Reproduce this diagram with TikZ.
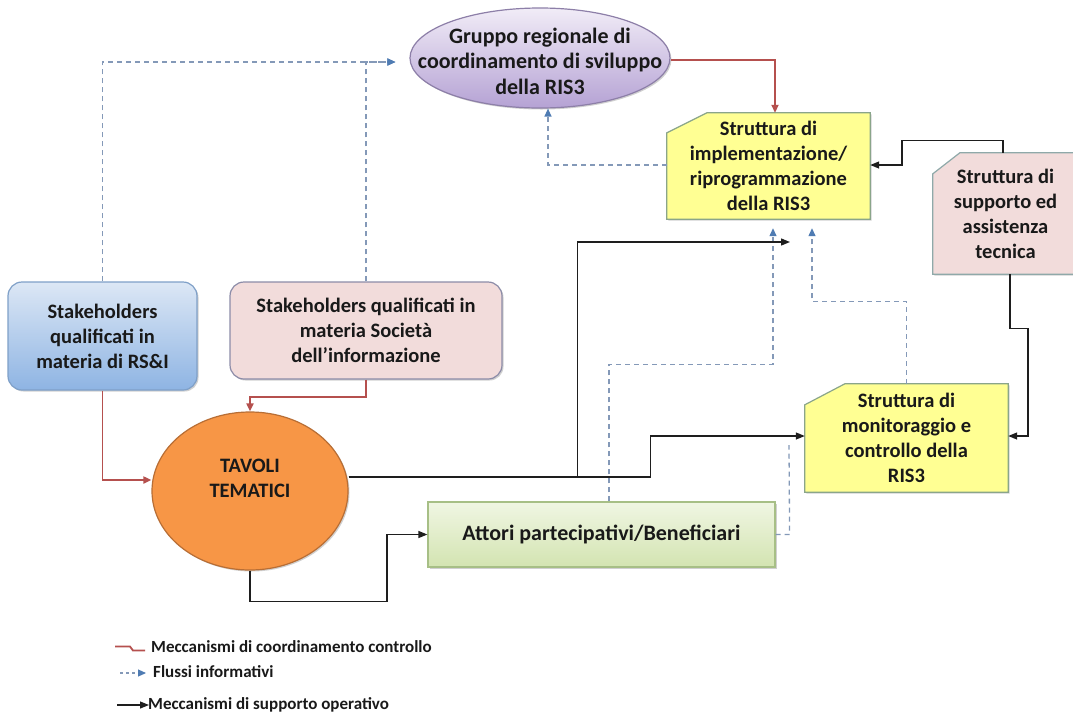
\documentclass[tikz,border=0pt]{standalone}
\usepackage{fontspec}
\setmainfont{Carlito}
\usetikzlibrary{arrows.meta,shadows,calc,shapes.geometric}
\definecolor{redline}{HTML}{B5504E}
\definecolor{blueline}{HTML}{8499B8}
\definecolor{bluetip}{HTML}{4F7CB3}
\definecolor{blackline}{HTML}{1E1E1E}
\definecolor{yelfill}{HTML}{FFFF93}
\definecolor{yeldraw}{HTML}{8AA58A}
\definecolor{pinkfill}{HTML}{F2DCDB}
\definecolor{suppdraw}{HTML}{8FA9A9}
\definecolor{socdraw}{HTML}{8C8CA8}
\definecolor{rsitop}{HTML}{DCE7F5}
\definecolor{rsibot}{HTML}{8EB4E3}
\definecolor{rsidraw}{HTML}{7FA0C8}
\definecolor{grtop}{HTML}{F1ECF7}
\definecolor{grbot}{HTML}{B5A2D4}
\definecolor{grdraw}{HTML}{8D7FA8}
\definecolor{tavfill}{HTML}{F79646}
\definecolor{tavdraw}{HTML}{B86E35}
\definecolor{atttop}{HTML}{F0F6E3}
\definecolor{attbot}{HTML}{D3E4B1}
\definecolor{attdraw}{HTML}{A7BF86}
\pgfdeclarelayer{background}
\pgfsetlayers{background,main}
\tikzset{
  txt/.style={font=\bfseries\fontsize{20.5}{25}\selectfont, align=center, text=black!90, inner sep=0pt},
  bigtxt/.style={font=\bfseries\fontsize{22}{25.5}\selectfont},
  shad/.style={drop shadow={shadow xshift=1.5pt,shadow yshift=-1.5pt,opacity=0.3,fill=black!60}},
  coord/.style={draw=redline, line width=1.8pt, -{Triangle[length=8pt,width=7pt]}},
  info/.style={draw=blueline, line width=1.3pt, dash pattern=on 5pt off 4pt, -{Triangle[length=8pt,width=7pt,color=bluetip]}},
  infonotip/.style={draw=blueline, line width=1.3pt, dash pattern=on 5pt off 4pt},
  oper/.style={draw=blackline, line width=1.3pt, -{Triangle[length=9pt,width=7pt]}},
  yelbox/.style={fill=yelfill, draw=yeldraw, line width=1.2pt, shad},
  suppbox/.style={fill=pinkfill, draw=suppdraw, line width=1.2pt, shad},
  legtxt/.style={font=\bfseries\fontsize{17}{20}\selectfont, anchor=west, inner sep=0pt, text=black!90}
}
\begin{document}
\begin{tikzpicture}[x=1pt,y=-1pt]
\useasboundingbox (0,0) rectangle (1073,713);

% nodes
\node[ellipse, inner sep=0pt, minimum width=260pt, minimum height=100pt, top color=grtop, bottom color=grbot, draw=grdraw, line width=1.2pt, shad] (gruppo) at (540,58) {};
\node[txt, bigtxt] (gruppotxt) at (540,61)
  {Gruppo regionale di\\coordinamento di sviluppo\\della RIS3};
\node[txt, minimum width=203pt, minimum height=106pt] (impl) at (768.5,166)
  {Struttura di\\implementazione/\\riprogrammazione\\della RIS3};
\node[txt, minimum width=145pt, minimum height=121pt] (supp) at (1005.5,213.5)
  {Struttura di\\supporto ed\\assistenza\\tecnica};
\node[txt, minimum width=203pt, minimum height=108pt] (monitor) at (906.5,438)
  {Struttura di\\monitoraggio e\\controllo della\\RIS3};
\node[txt, rectangle, rounded corners=14pt, minimum width=189pt, minimum height=108pt, top color=rsitop, bottom color=rsibot, draw=rsidraw, line width=1.2pt, shad] (rsi) at (102.5,336)
  {Stakeholders\\qualificati in\\materia di RS\&I};
\node[txt, rectangle, rounded corners=14pt, minimum width=272pt, minimum height=97pt, fill=pinkfill, draw=socdraw, line width=1.2pt, shad] (soc) at (366,330.5)
  {Stakeholders qualificati in\\materia Società\\dell’informazione};
\node[txt, ellipse, minimum width=196pt, minimum height=158pt, fill=tavfill, draw=tavdraw, line width=1.2pt, shad] (tavoli) at (250,491)
  {TAVOLI\\TEMATICI\\\mbox{}};
\node[txt, bigtxt, rectangle, minimum width=347pt, minimum height=65pt, top color=atttop, bottom color=attbot, draw=attdraw, line width=1.2pt, shad] (attori) at (601.5,534.5)
  {Attori partecipativi/Beneficiari};

\begin{pgfonlayer}{background}
\fill[white] (0,0) rectangle (1073,713);
\path[yelbox] (impl.south west) -- (impl.south east) -- (impl.north east) -- ([xshift=40pt]impl.north west) -- ([yshift=-20pt]impl.north west) -- cycle;
\path[yelbox] (monitor.south west) -- (monitor.south east) -- (monitor.north east) -- ([xshift=40pt]monitor.north west) -- ([yshift=-21pt]monitor.north west) -- cycle;
\path[suppbox] (supp.south west) -- (supp.south east) -- (supp.north east) -- ([xshift=27pt]supp.north west) -- ([yshift=-21pt]supp.north west) -- cycle;
\end{pgfonlayer}

% coordination (red)
\draw[coord] ([yshift=-2pt]gruppo.east) -| ([xshift=6.5pt]impl.north);
\draw[coord] (rsi.south) |- ([yshift=11pt]tavoli.west);
\draw[coord] (soc.south) -- ++(0,17) -| (tavoli.north);

% information flows (blue dashed)
\draw[info] (rsi.north) |- ([xshift=-14pt,yshift=-4pt]gruppo.west);
\draw[info] (soc.north) |- ([xshift=-14pt,yshift=-4pt]gruppo.west);
\draw[info] ([yshift=1pt]impl.west) -| ([xshift=8pt]gruppo.south);
\draw[info] ([xshift=7.5pt]attori.north) -- ++(0,-137) -| ([xshift=4.5pt,yshift=-9pt]impl.south);
\draw[info] (monitor.north) -- ++(0,-82) -| ([xshift=43.5pt,yshift=-9pt]impl.south);
\coordinate (infoend) at (789,445);
\draw[infonotip] (attori.east) -- ++(14,0) -- (infoend);

% operational support (black)
\coordinate (implin) at (790,242);
\draw[oper] ([yshift=14pt]tavoli.east) -- ++(229,0) |- (implin);
\draw[oper] ([yshift=14pt]tavoli.east) -- ++(302,0) |- ([yshift=2pt]monitor.west);
\draw[oper] (tavoli.south) -- ++(0,31) -- ++(137,0) |- (attori.west);
\draw[oper] ([xshift=-2.5pt]supp.north) -- ++(0,-12) -- ++(-101,0) |- ([yshift=1pt]impl.east);
\draw[oper] ([xshift=4.5pt]supp.south) -- ++(0,54) -- ++(18,0) |- ([yshift=2pt]monitor.east);

% legend
\coordinate (l1a) at (115,646.5);
\coordinate (l1b) at (145,650.5);
\draw[draw=redline, line width=1.8pt] (l1a) -- ++(15,0) -- ++(3,4) -- (l1b);
\node[legtxt] (leg1) at (151,647) {Meccanismi di coordinamento controllo};
\coordinate (l2a) at (120,673);
\coordinate (l2b) at (146,673);
\draw[info, line width=1.1pt, dash pattern=on 3pt off 3pt] (l2a) -- (l2b);
\node[legtxt] (leg2) at (153,672) {Flussi informativi};
\coordinate (l3a) at (117,705);
\coordinate (l3b) at (149,705);
\draw[oper, line width=1.1pt] (l3a) -- (l3b);
\node[legtxt] (leg3) at (148,705) {Meccanismi di supporto operativo};
\end{tikzpicture}
\end{document}
